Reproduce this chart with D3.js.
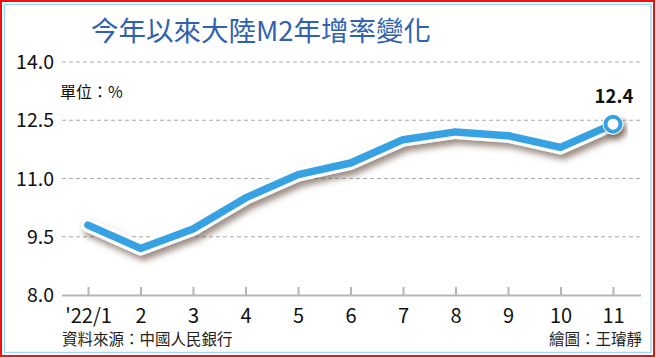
<!DOCTYPE html>
<html><head><meta charset="utf-8">
<script src="https://cdn.jsdelivr.net/npm/d3@7"></script>
<style>
html,body{margin:0;padding:0;background:#fff;}
svg{display:block;}
text{font-family:"Noto Sans CJK TC","Noto Sans",sans-serif;}
</style></head>
<body>
<svg id="chart" width="656" height="358"></svg>
<script>
const title = "今年以來大陸M2年增率變化";
const months = ["'22/1","2","3","4","5","6","7","8","9","10","11"];
const values = [9.8, 9.2, 9.7, 10.5, 11.1, 11.4, 12.0, 12.2, 12.1, 11.8, 12.4];
const yTicks = [8.0, 9.5, 11.0, 12.5, 14.0];
const unitLabel = "單位：%";
const sourceLabel = "資料來源：中國人民銀行";
const creditLabel = "繪圖：王璿靜";

const svg = d3.select("#chart");
const W = 656, H = 358;
const numFont = "'Liberation Sans', Arial, sans-serif";

// borders
svg.append("rect").attr("x",1).attr("y",1).attr("width",W-3).attr("height",H-3)
  .attr("fill","#fff").attr("stroke","#f01010").attr("stroke-width",2);
svg.append("rect").attr("x",4.5).attr("y",4.5).attr("width",W-9.5).attr("height",H-10)
  .attr("fill","none").attr("stroke","#a8d4f2").attr("stroke-width",1.5);

const defs = svg.append("defs");
const f = defs.append("filter").attr("id","shadow").attr("x","-10%").attr("y","-30%").attr("width","130%").attr("height","180%");
f.append("feDropShadow").attr("dx",3).attr("dy",5).attr("stdDeviation",3)
  .attr("flood-color","#5a4030").attr("flood-opacity",0.6);

const x = d3.scalePoint().domain(months).range([88, 613]);
const y = d3.scaleLinear().domain([8, 14]).range([295, 62]);

// title
svg.append("text").attr("x",261).attr("y",41).attr("text-anchor","middle")
  .attr("font-size",27.5).attr("fill","#3062b0").text(title);

// gridlines
svg.append("g").selectAll("line").data(yTicks.filter(d=>d>8)).join("line")
  .attr("x1",62).attr("x2",641).attr("y1",d=>y(d)).attr("y2",d=>y(d))
  .attr("stroke","#aaa").attr("stroke-width",1).attr("stroke-dasharray","4,3");

// y labels
svg.append("g").selectAll("text").data(yTicks).join("text")
  .attr("x",54).attr("y",d=>y(d)+7).attr("text-anchor","end")
  .attr("font-size",19.5).attr("fill","#111").attr("font-family",numFont)
  .text(d=>d.toFixed(1));

// x axis
const xAxis = d3.axisBottom(x).tickSize(8).tickPadding(4);
const gx = svg.append("g").attr("transform",`translate(0,${y(8)})`).call(xAxis);
gx.select(".domain").attr("d",`M62,0.5H641`).attr("stroke","#b5b5b5").attr("stroke-width",2);
gx.selectAll(".tick line").attr("stroke","#b5b5b5").attr("stroke-width",2).attr("y1",-8).attr("y2",0);
gx.selectAll(".tick text").attr("font-size",20).attr("fill","#111").attr("y",28).attr("dy",0)
  .attr("font-family",numFont);

// unit
svg.append("text").attr("x",60).attr("y",98).attr("font-size",16).attr("fill","#111").text(unitLabel);

// source & credit
svg.append("text").attr("x",62).attr("y",345).attr("font-size",15.5).attr("fill","#222").text(sourceLabel);
svg.append("text").attr("x",642).attr("y",345).attr("text-anchor","end").attr("font-size",15.5).attr("fill","#222").text(creditLabel);

// line
const line = d3.line().x((d,i)=>x(months[i])).y(d=>y(d));
const lg = svg.append("g");
lg.append("path").datum(values).attr("d",line).attr("fill","none")
  .attr("stroke","#fff").attr("stroke-width",14).attr("stroke-linejoin","round").attr("stroke-linecap","round")
  .attr("filter","url(#shadow)");
lg.append("path").datum(values).attr("d",line).attr("fill","none")
  .attr("stroke","#37a2e3").attr("stroke-width",7.5).attr("stroke-linejoin","round").attr("stroke-linecap","round");

// last point
const li = values.length-1;
svg.append("circle").attr("cx",x(months[li])).attr("cy",y(values[li])).attr("r",10.5)
  .attr("fill","#fff").attr("filter","url(#shadow)");
svg.append("circle").attr("cx",x(months[li])).attr("cy",y(values[li])).attr("r",7.5)
  .attr("fill","#fff").attr("stroke","#37a2e3").attr("stroke-width",4);
svg.append("text").attr("x",x(months[li])+1).attr("y",y(values[li])-21).attr("text-anchor","middle")
  .attr("font-size",18.5).attr("font-weight","bold").attr("fill","#111")
  .attr("font-family",numFont).text(values[li].toFixed(1));
</script>
</body></html>
